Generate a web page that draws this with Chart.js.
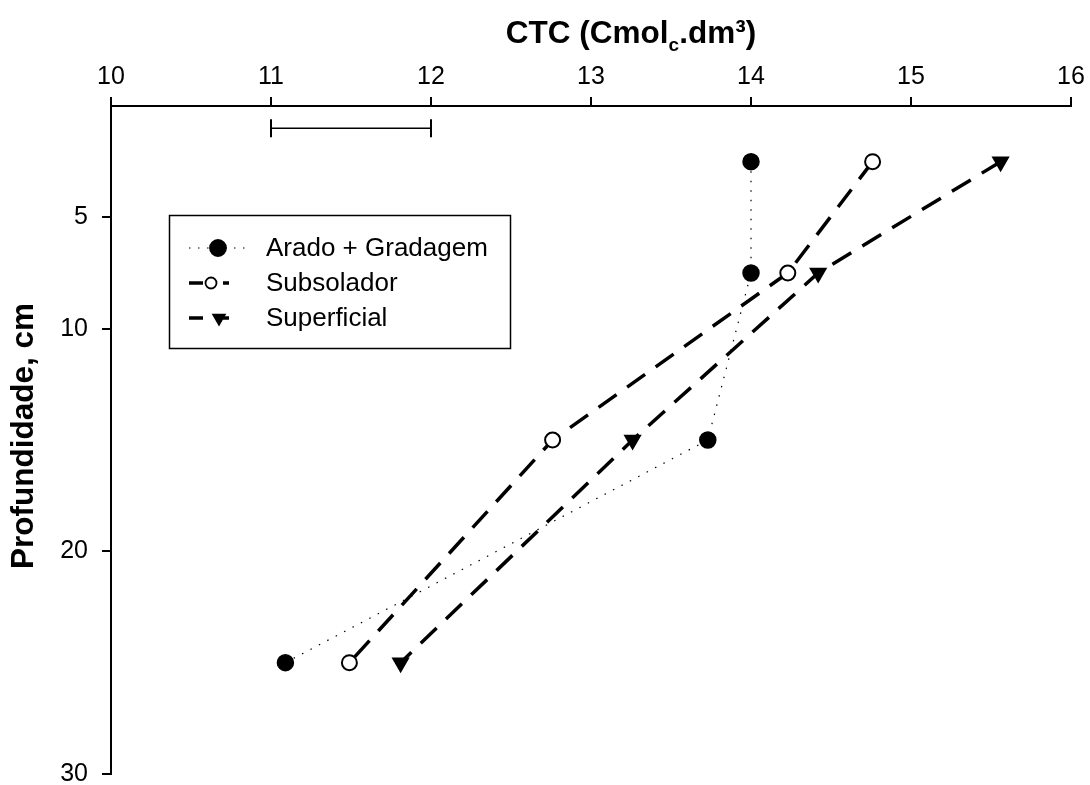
<!DOCTYPE html>
<html>
<head>
<meta charset="utf-8">
<title>CTC x Profundidade</title>
<script src="https://cdn.jsdelivr.net/npm/chart.js@4.4.1/dist/chart.umd.min.js"></script>
<style>
  html, body { margin: 0; padding: 0; background: #fff; }
  #wrap { width: 1090px; height: 785px; }
</style>
</head>
<body>
<div id="wrap"><canvas id="ctcChart" width="1090" height="785"></canvas></div>
<script>
  // --- Data ---
  const depths = [2.5, 7.5, 15, 25];
  const aradoGradagem = [14.0, 14.0, 13.73, 11.09];
  const subsolador = [14.76, 14.23, 12.76, 11.49];
  const superficial = [15.56, 14.42, 13.26, 11.81];
  const seriesNames = ['Arado + Gradagem', 'Subsolador', 'Superficial'];

  // DMS bar drawn above the profiles
  const dmsRange = [11, 12];
  const dmsDepth = 1;

  const xTickValues = [10, 11, 12, 13, 14, 15, 16];
  const yTickValues = [5, 10, 20, 30];

  const FONT = "'Liberation Sans', Arial, Helvetica, sans-serif";

  function toPoints(xs) {
    return xs.map((x, i) => ({ x: x, y: depths[i] }));
  }

  // --- Titles and legend box ---
  const decorations = {
    id: 'decorations',
    afterDraw(chart) {
      const ctx = chart.ctx;
      ctx.save();
      ctx.fillStyle = '#000';

      // top axis title with subscript "c"
      const parts = [
        { t: 'CTC (Cmol', size: 31.5, dy: 0 },
        { t: 'c', size: 19, dy: 8 },
        { t: '.dm³)', size: 31.5, dy: 0 }
      ];
      let total = 0;
      parts.forEach(p => {
        ctx.font = 'bold ' + p.size + 'px ' + FONT;
        p.w = ctx.measureText(p.t).width;
        total += p.w;
      });
      let x = 631 - total / 2;
      ctx.textBaseline = 'alphabetic';
      ctx.textAlign = 'left';
      parts.forEach(p => {
        ctx.font = 'bold ' + p.size + 'px ' + FONT;
        ctx.fillText(p.t, x, 43 + p.dy);
        x += p.w;
      });

      // left axis title
      ctx.save();
      ctx.translate(24, 436);
      ctx.rotate(-Math.PI / 2);
      ctx.textAlign = 'center';
      ctx.textBaseline = 'middle';
      ctx.font = 'bold 31.5px ' + FONT;
      ctx.fillText('Profundidade, cm', 0, 0);
      ctx.restore();

      // legend
      ctx.lineWidth = 1.5;
      ctx.strokeStyle = '#000';
      ctx.strokeRect(169.5, 215.5, 341, 133);

      const rows = [248, 283, 318];
      const samples = [
        { dash: [1.5, 7.5], width: 1.2, end: 250, mx: 218, marker: 'dot', r: 8 },
        { dash: [14, 20], width: 3.5, end: 229, mx: 211, marker: 'ring', r: 5.5 },
        { dash: [14, 20], width: 3.5, end: 229, mx: 219, marker: 'tri', r: 8.5 }
      ];
      samples.forEach((s, i) => {
        const y = rows[i];
        ctx.beginPath();
        ctx.setLineDash(s.dash);
        ctx.lineWidth = s.width;
        ctx.moveTo(189, y);
        ctx.lineTo(s.end, y);
        ctx.stroke();
        ctx.setLineDash([]);
        drawMarker(ctx, s.marker, s.mx, y, s.r);

        ctx.font = '26px ' + FONT;
        ctx.textAlign = 'left';
        ctx.textBaseline = 'middle';
        ctx.fillStyle = '#000';
        ctx.fillText(seriesNames[i], 266, y + 1);
      });

      ctx.restore();
    }
  };

  function drawMarker(ctx, kind, x, y, r) {
    ctx.beginPath();
    if (kind === 'tri') {
      ctx.moveTo(x - r * 0.866, y - r * 0.5);
      ctx.lineTo(x + r * 0.866, y - r * 0.5);
      ctx.lineTo(x, y + r);
      ctx.closePath();
      ctx.fillStyle = '#000';
      ctx.fill();
      return;
    }
    ctx.arc(x, y, r, 0, Math.PI * 2);
    ctx.fillStyle = kind === 'ring' ? '#fff' : '#000';
    ctx.fill();
    ctx.lineWidth = 1.8;
    ctx.strokeStyle = '#000';
    ctx.stroke();
  }

  // --- Chart ---
  const datasets = [
    {
      label: seriesNames[0],
      data: toPoints(aradoGradagem),
      showLine: true,
      borderColor: '#000',
      borderWidth: 1.2,
      borderDash: [1.5, 8],
      pointStyle: 'circle',
      pointRadius: 8,
      pointBackgroundColor: '#000',
      pointBorderColor: '#000',
      pointBorderWidth: 1.5,
      order: 3
    },
    {
      label: seriesNames[1],
      data: toPoints(subsolador),
      showLine: true,
      borderColor: '#000',
      borderWidth: 3.5,
      borderDash: [22, 13],
      pointStyle: 'circle',
      pointRadius: 7.5,
      pointBackgroundColor: '#fff',
      pointBorderColor: '#000',
      pointBorderWidth: 2,
      order: 2
    },
    {
      label: seriesNames[2],
      data: toPoints(superficial),
      showLine: true,
      borderColor: '#000',
      borderWidth: 3.5,
      borderDash: [22, 13],
      pointStyle: 'triangle',
      pointRotation: 180,
      pointRadius: 10.5,
      pointBackgroundColor: '#000',
      pointBorderColor: '#000',
      pointBorderWidth: 0,
      order: 1
    },
    {
      label: 'DMS',
      data: dmsRange.map(v => ({ x: v, y: dmsDepth })),
      showLine: true,
      borderColor: '#000',
      borderWidth: 1.5,
      pointStyle: 'line',
      pointRotation: 90,
      pointRadius: 9,
      pointBorderColor: '#000',
      pointBorderWidth: 2,
      order: 4
    }
  ];

  const ctx = document.getElementById('ctcChart').getContext('2d');
  new Chart(ctx, {
    type: 'scatter',
    data: { datasets },
    options: {
      responsive: false,
      devicePixelRatio: 1,
      animation: false,
      layout: { padding: { left: 0, right: 19, top: 0, bottom: 9 } },
      elements: { line: { tension: 0, fill: false } },
      plugins: {
        legend: { display: false },
        tooltip: { enabled: false }
      },
      scales: {
        x: {
          type: 'linear',
          position: 'top',
          min: 10,
          max: 16,
          afterBuildTicks: (scale) => { scale.ticks = xTickValues.map(v => ({ value: v })); },
          afterFit: (scale) => {
            scale.height = 106;
            scale.paddingLeft = 0;
            scale.paddingRight = 0;
          },
          border: { display: true, color: '#000', width: 2 },
          grid: { drawOnChartArea: false, drawTicks: true, tickLength: 9, color: '#000', lineWidth: 2 },
          ticks: { color: '#000', padding: 5, font: { family: FONT, size: 25 } }
        },
        y: {
          type: 'linear',
          reverse: true,
          min: 0,
          max: 30,
          afterBuildTicks: (scale) => { scale.ticks = yTickValues.map(v => ({ value: v })); },
          afterFit: (scale) => {
            scale.width = 111;
            scale.paddingTop = 0;
            scale.paddingBottom = 0;
          },
          border: { display: true, color: '#000', width: 2 },
          grid: { drawOnChartArea: false, drawTicks: true, tickLength: 9, color: '#000', lineWidth: 2 },
          ticks: { color: '#000', padding: 14, font: { family: FONT, size: 25 } }
        }
      }
    },
    plugins: [decorations]
  });
</script>
</body>
</html>
